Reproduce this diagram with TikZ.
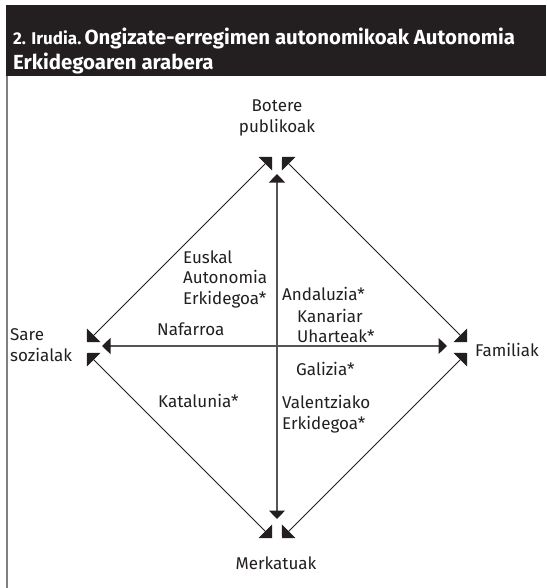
\documentclass[tikz,border=0pt]{standalone}
\usepackage{fontspec}
\setmainfont{Fira Sans}
\usetikzlibrary{arrows.meta}
\definecolor{ink}{HTML}{231F20}
\definecolor{framegray}{HTML}{808080}
\definecolor{axisgray}{HTML}{555555}
\tikzset{
  lbl/.style={font=\fontsize{17}{20.5}\selectfont, text=ink, inner sep=0pt, align=left},
  lblc/.style={font=\fontsize{17}{20.5}\selectfont, text=ink, inner sep=0pt, align=center},
  dtip/.tip={Triangle[length=9.5pt, width=19pt]},
  atip/.tip={Triangle[length=8.5pt, width=16pt, color=ink]},
  dbl/.style={dtip-dtip, draw=ink, fill=ink, line width=0.8pt},
  axis/.style={atip-atip, draw=axisgray, line width=1.2pt},
  ttl/.style={text=white, inner sep=0pt, anchor=base west, font=\bfseries}
}
\begin{document}
\begin{tikzpicture}[x=1pt,y=-1pt]
\useasboundingbox (0,0) rectangle (546,588);
\fill[white] (0,0) rectangle (546,588);
% title bar
\fill[ink] (6,5) rectangle (546,76);
\draw[framegray, line width=1.5pt] (7,76) -- (7,588);
\node[ttl] (t1) at (13,45) {{\fontsize{17}{20}\selectfont 2. Irudia.} {\fontsize{20.4}{25}\selectfont Ongizate-erregimen autonomikoak Autonomia}};
\node[ttl] (t2) at (13,70) {\fontsize{20.4}{25}\selectfont Erkidegoaren arabera};
% pole labels
\node[lblc] (bp) at (277,118) {Botere\\publikoak};
\node[lbl, anchor=west] (ss) at (10,345) {Sare\\sozialak};
\node[lbl, anchor=west] (fa) at (475,350) {Familiak};
\node[lblc] (me) at (276,563) {Merkatuak};
% arrow end points
\coordinate (tl) at (272,157);
\coordinate (tr) at (282,157);
\coordinate (tv) at (277,174);
\coordinate (lu) at (87,342);
\coordinate (ld) at (87,353);
\coordinate (lh) at (102,346);
\coordinate (ru) at (467,342);
\coordinate (rd) at (467,353);
\coordinate (rh) at (447,346);
\coordinate (bl) at (272,538);
\coordinate (br) at (282,538);
\coordinate (bv) at (277,519);
% connectors
\draw[dbl] (tl) -- (lu);
\draw[dbl] (tr) -- (ru);
\draw[dbl] (ld) -- (bl);
\draw[dbl] (rd) -- (br);
\draw[axis] (tv) -- (bv);
\draw[axis] (lh) -- (rh);
% region labels
\node[lbl, anchor=west] (eu) at (183,279) {Euskal\\Autonomia\\Erkidegoa*};
\node[lbl, anchor=west] (an) at (282,294) {Andaluzia*};
\node[lbl, anchor=west] (ka) at (297,326) {Kanariar\\Uharteak*};
\node[lbl, anchor=west] (na) at (157,329) {Nafarroa};
\node[lbl, anchor=west] (ga) at (296,369) {Galizia*};
\node[lbl, anchor=west] (kt) at (158,401) {Katalunia*};
\node[lbl, anchor=west] (va) at (282,414) {Valentziako\\Erkidegoa*};
\end{tikzpicture}
\end{document}
